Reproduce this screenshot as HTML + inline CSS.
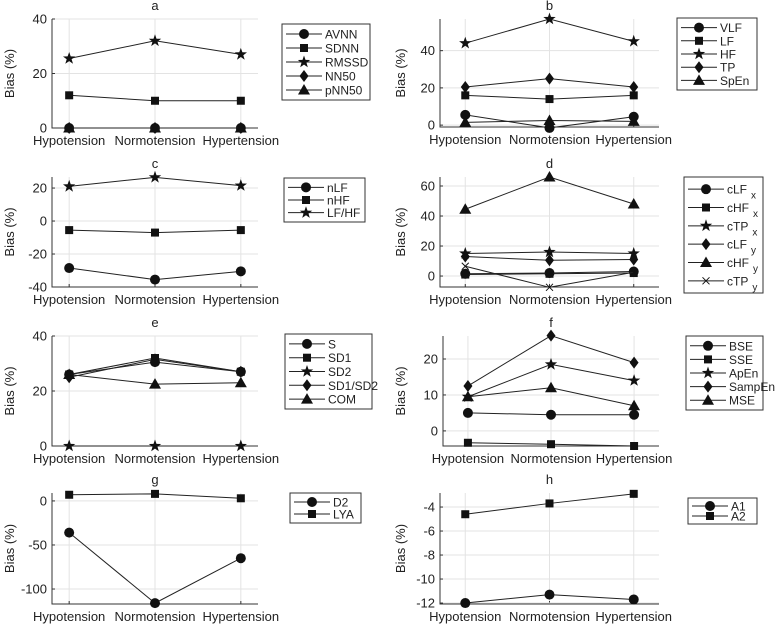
<!DOCTYPE html>
<html><head><meta charset="utf-8"><style>
body{margin:0;background:#fff}
svg{display:block;font-family:"Liberation Sans",sans-serif}
</style></head><body>
<svg id="c" width="778" height="624" viewBox="0 0 778 624" xmlns="http://www.w3.org/2000/svg"></svg>
<script>
const categories=["Hypotension","Normotension","Hypertension"];
const aNames=["AVNN","SDNN","RMSSD","NN50","pNN50"];
const aValues=[[0,0,0],[12,10,10],[25.5,32,27],[0,0,0],[0,0,0]];
const bNames=["VLF","LF","HF","TP","SpEn"];
const bValues=[[5.5,-1.5,4.5],[16,14,16],[44,57,45],[20.5,25,20.5],[1.5,2.5,2]];
const cNames=["nLF","nHF","LF/HF"];
const cValues=[[-28.5,-35.5,-30.5],[-5.5,-7,-5.5],[21,26.5,21.5]];
const dNames=["cLF|x","cHF|x","cTP|x","cLF|y","cHF|y","cTP|y"];
const dValues=[[1.5,2,3],[1,1.5,2],[15,16,15],[13,10.5,11],[44.5,66,48],[6.5,-7.5,2.5]];
const eNames=["S","SD1","SD2","SD1/SD2","COM"];
const eValues=[[26,30.5,27],[26,32,27],[0,0,0],[25,31.5,27],[26,22.5,23]];
const fNames=["BSE","SSE","ApEn","SampEn","MSE"];
const fValues=[[5,4.5,4.5],[-3.3,-3.7,-4.2],[9.5,18.5,14],[12.5,26.5,19],[9.5,12,7]];
const gNames=["D2","LYA"];
const gValues=[[-36,-116,-65],[7,8,3]];
const hNames=["A1","A2"];
const hValues=[[-12,-11.3,-11.7],[-4.6,-3.7,-2.9]];
const aTicks=[0,20,40],bTicks=[0,20,40],cTicks=[-40,-20,0,20],dTicks=[0,20,40,60],eTicks=[0,20,40],fTicks=[0,10,20],gTicks=[-100,-50,0],hTicks=[-12,-10,-8,-6,-4];
const markers=["circle","square","star","diamond","triangle","x"];

const NS="http://www.w3.org/2000/svg";
const svg=document.getElementById("c");
function mk(tag,attrs,parent){const e=document.createElementNS(NS,tag);for(const k in attrs)e.setAttribute(k,attrs[k]);(parent||svg).appendChild(e);return e;}
function marker(g,type,x,y){
  let e;
  if(type==="circle")e=mk("circle",{cx:x,cy:y,r:5,fill:"#111"},g);
  else if(type==="square")e=mk("rect",{x:x-4,y:y-4,width:8,height:8,fill:"#111"},g);
  else if(type==="diamond")e=mk("polygon",{points:`${x},${y-6} ${x+4.5},${y} ${x},${y+6} ${x-4.5},${y}`,fill:"#111"},g);
  else if(type==="triangle")e=mk("polygon",{points:`${x},${y-6} ${x+6},${y+4.5} ${x-6},${y+4.5}`,fill:"#111"},g);
  else if(type==="x")e=mk("path",{d:`M${x-3.5},${y-3.5}L${x+3.5},${y+3.5}M${x+3.5},${y-3.5}L${x-3.5},${y+3.5}`,stroke:"#111","stroke-width":1},g);
  else{let p=[];for(let i=0;i<10;i++){const r=i%2?2.6:6.5,a=-Math.PI/2+i*Math.PI/5;p.push((x+r*Math.cos(a)).toFixed(1)+","+(y+r*Math.sin(a)).toFixed(1));}e=mk("polygon",{points:p.join(" "),fill:"#111"},g);}
  
  
}
function panel(p){
  const g=mk("g",{});
  
  
  const X=i=>p.x0+(i+1-p.xl[0])/(p.xl[1]-p.xl[0])*(p.x1-p.x0);
  const Y=v=>p.y1-(v-p.yl[0])/(p.yl[1]-p.yl[0])*(p.y1-p.y0);
  categories.forEach((c,i)=>{mk("line",{x1:X(i),x2:X(i),y1:p.y0,y2:p.y1,stroke:"#e3e3e3"},g);
    const t=mk("text",{x:X(i),y:p.y1+17,"text-anchor":"middle","font-size":13,fill:"#222"},g);t.textContent=c;
    
    mk("line",{x1:X(i),x2:X(i),y1:p.y1,y2:p.y1-3,stroke:"#333"},g);});
  p.ticks.forEach(v=>{mk("line",{x1:p.x0,x2:p.x1,y1:Y(v),y2:Y(v),stroke:"#e3e3e3"},g);
    mk("line",{x1:p.x0,x2:p.x0+3,y1:Y(v),y2:Y(v),stroke:"#333"},g);
    const t=mk("text",{x:p.x0-5,y:Y(v)+4.5,"text-anchor":"end","font-size":13,fill:"#222"},g);t.textContent=v;
    });
  mk("path",{d:`M${p.x0},${p.y0}V${p.y1}H${p.x1}`,stroke:"#333",fill:"none"},g);
  const tt=mk("text",{x:(X(1)),y:p.y0-9,"text-anchor":"middle","font-size":13,fill:"#222"},g);tt.textContent=p.title;
  
  const yl=mk("text",{x:0,y:0,"text-anchor":"middle","font-size":13,fill:"#222",transform:`translate(${p.ylx},${(p.y0+p.y1)/2}) rotate(-90)`},g);yl.textContent="Bias (%)";
  
  p.vals.forEach((s,k)=>{
    const pl=mk("polyline",{points:s.map((v,i)=>X(i)+","+Y(v)).join(" "),fill:"none",stroke:"#222","stroke-width":1},g);
    
    s.forEach((v,i)=>marker(g,markers[k],X(i),Y(v)));
  });
  const L=p.leg;
  const lb=mk("rect",{x:L[0],y:L[1],width:L[2]-L[0],height:L[3]-L[1],fill:"#fff",stroke:"#333"},g);
  
  const n=p.names.length,rh=(L[3]-L[1]-6)/n;
  p.names.forEach((nm,k)=>{
    const y=L[1]+3+rh*(k+0.5);
    mk("line",{x1:L[0]+4,x2:L[0]+40,y1:y,y2:y,stroke:"#222"},g);
    marker(g,markers[k],L[0]+22,y);
    const t=mk("text",{x:L[0]+43,y:y+4.5,"font-size":12,fill:"#222"},g);
    
    const parts=nm.split("|");t.textContent=parts[0];
    if(parts[1]){const s=mk("tspan",{dx:4,dy:5,"font-size":10},t);s.textContent=parts[1];}
  });
}
const LA={x0:52,x1:258,xl:[0.8,3.2],ylx:14},RA={x0:440,x1:659,xl:[0.7,3.3],ylx:405};
panel({...LA,y0:19,y1:128,yl:[0,40],ticks:aTicks,vals:aValues,names:aNames,title:"a",leg:[282,24,370,100]});
panel({...RA,y0:19,y1:127,yl:[-1,57],ticks:bTicks,vals:bValues,names:bNames,title:"b",leg:[677,18,757,90]});
panel({...LA,y0:177,y1:287,yl:[-40,26.7],ticks:cTicks,vals:cValues,names:cNames,title:"c",leg:[284,178,365,222]});
panel({...RA,y0:177,y1:287,yl:[-7.3,66],ticks:dTicks,vals:dValues,names:dNames,title:"d",leg:[684,177,763,293]});
panel({...LA,y0:336,y1:446,yl:[0,40],ticks:eTicks,vals:eValues,names:eNames,title:"e",leg:[285,334,372,409]});
panel({...RA,x0:443,y0:336,y1:446,yl:[-4.2,26.4],ticks:fTicks,vals:fValues,names:fNames,title:"f",leg:[686,336,763,410]});
panel({...LA,y0:493,y1:604,yl:[-117,9],ticks:gTicks,vals:gValues,names:gNames,title:"g",leg:[290,493,361,523]});
panel({...RA,y0:493,y1:604,yl:[-12.08,-2.83],ticks:hTicks,vals:hValues,names:hNames,title:"h",leg:[688,498,757,524]});
</script>
</body></html>
